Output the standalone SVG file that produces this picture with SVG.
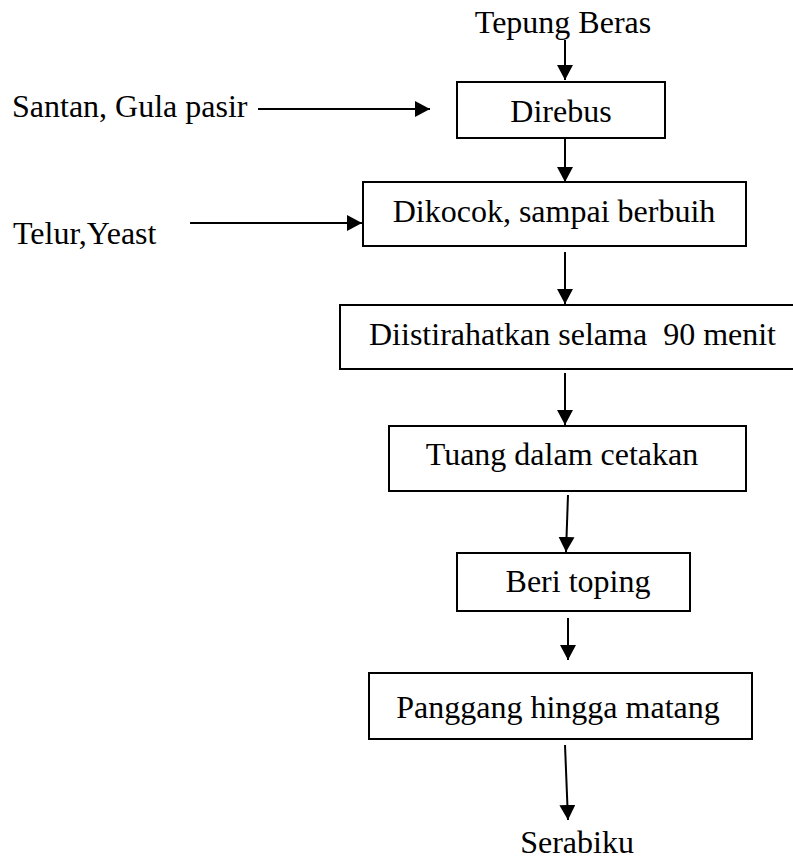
<svg xmlns="http://www.w3.org/2000/svg" width="793" height="861" viewBox="0 0 793 861">
<style>
text{font-family:"Liberation Serif","Times New Roman",serif;font-size:32px;fill:#000}
.c{text-anchor:middle}
.box{fill:#fff;stroke:#000;stroke-width:2}
.arr{stroke:#000;stroke-width:2;fill:none;marker-end:url(#ah)}
</style>
<defs>
<marker id="ah" markerUnits="userSpaceOnUse" markerWidth="18" markerHeight="18" refX="15" refY="8" orient="auto">
<path d="M0,0 L15,8 L0,16 Z" fill="#000"/>
</marker>
</defs>
<rect width="793" height="861" fill="#fff"/>
<g id="connectors">
<line class="arr" x1="565" y1="40" x2="565" y2="80"/>
<line class="arr" x1="258" y1="109" x2="430" y2="109"/>
<line class="arr" x1="565" y1="138" x2="565" y2="182"/>
<line class="arr" x1="190" y1="223" x2="362" y2="223"/>
<line class="arr" x1="565" y1="252" x2="565" y2="304"/>
<line class="arr" x1="565" y1="373" x2="565" y2="425"/>
<line class="arr" x1="568" y1="495" x2="566" y2="552"/>
<line class="arr" x1="568" y1="618" x2="568" y2="660"/>
<line class="arr" x1="565" y1="745" x2="568" y2="820"/>
</g>
<g id="n-tepung"><text class="c" x="563" y="33">Tepung Beras</text></g>
<g id="n-santan"><text x="12" y="117">Santan, Gula pasir</text></g>
<g id="n-telur"><text x="13" y="244">Telur,Yeast</text></g>
<g id="n-direbus"><rect class="box" x="457" y="82" width="208" height="56"/><text class="c" x="561" y="122">Direbus</text></g>
<g id="n-dikocok"><rect class="box" x="363" y="182" width="383" height="64"/><text class="c" x="554" y="222">Dikocok, sampai berbuih</text></g>
<g id="n-diistirahatkan"><rect class="box" x="340" y="305" width="470" height="64"/><text x="369" y="345" xml:space="preserve">Diistirahatkan selama  90 menit</text></g>
<g id="n-tuang"><rect class="box" x="389" y="426" width="357" height="65"/><text class="c" x="562" y="465">Tuang dalam cetakan</text></g>
<g id="n-beri"><rect class="box" x="457" y="553" width="233" height="58"/><text class="c" x="578" y="592">Beri toping</text></g>
<g id="n-panggang"><rect class="box" x="369" y="673" width="383" height="66"/><text class="c" x="558" y="718">Panggang hingga matang</text></g>
<g id="n-serabiku"><text class="c" x="577" y="853">Serabiku</text></g>
</svg>
